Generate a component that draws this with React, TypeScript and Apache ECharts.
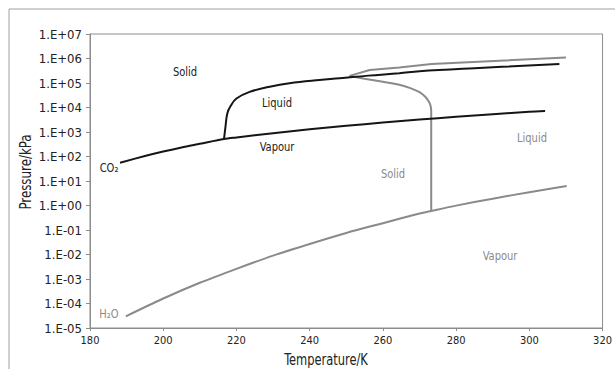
import React, { useEffect, useRef } from "react";
import * as echarts from "echarts";

// CO2 (black) – sublimation + vaporisation curve
const co2VapourT = [188.2, 195, 200, 205, 210, 216.6, 220, 230, 240, 250, 260, 270, 280, 290, 300, 304.3];
const co2VapourP = [56, 105, 160, 235, 330, 518, 600, 893, 1283, 1785, 2419, 3203, 4161, 5318, 6713, 7200];
// CO2 melting curve
const co2MeltT = [216.6, 217.0, 217.5, 218.4, 220.0, 223.6, 229.1, 234.5, 242.7, 248.2, 256.0, 264.5, 270.0, 285.0, 308.2];
const co2MeltP = [518, 1600, 5750, 11500, 23400, 43600, 70800, 98000, 132000, 155000, 200000, 250000, 300000, 400000, 590000];
// H2O (grey) – sublimation + vaporisation curve
const h2oVapourT = [189.8, 200, 210, 220, 230, 240, 250, 260, 270, 273.2, 280, 290, 300, 310.2];
const h2oVapourP = [3.0e-5, 1.6e-4, 7.0e-4, 2.6e-3, 9.0e-3, 0.027, 0.076, 0.19, 0.47, 0.6, 0.99, 1.9, 3.5, 6.2];
// H2O melting curve
const h2oMeltT = [273.2, 273.2, 273.0, 272.5, 271.5, 270.0, 267.5, 264.5, 260.0, 255.0, 250.9];
const h2oMeltP = [0.6, 7000, 12000, 18000, 28000, 42000, 62000, 85000, 112000, 150000, 195000];
// H2O high-pressure ice boundary
const h2oUpperT = [250.9, 256.4, 264.5, 273.3, 310.0];
const h2oUpperP = [195000, 340000, 430000, 590000, 1100000];

const xTicks = [180, 200, 220, 240, 260, 280, 300, 320];
const yTickLabels = [
  "1.E-05", "1.E-04", "1.E-03", "1.E-02", "1.E-01", "1.E+00", "1.E+01",
  "1.E+02", "1.E+03", "1.E+04", "1.E+05", "1.E+06", "1.E+07",
];

const BLACK = "#151515";
const GREY = "#8a8a8a";
const FONT = "'Liberation Sans Narrow', 'DejaVu Sans Condensed', 'Liberation Sans', sans-serif";

const zip = (a: number[], b: number[]) => a.map((v, i) => [v, b[i]]);

export default function App() {
  const ref = useRef<HTMLDivElement>(null);
  useEffect(() => {
    if (!ref.current) return;
    const chart = echarts.init(ref.current, null, { renderer: "svg" });
    const lineSeries = (name: string, t: number[], p: number[], color: string, smooth: boolean | number) => ({
      name,
      type: "line",
      data: zip(t, p),
      showSymbol: false,
      smooth,
      lineStyle: { color, width: 2 },
      itemStyle: { color },
      z: color === BLACK ? 3 : 2,
    });
    const txt = (text: string, x: number, y: number, fill: string, size = 13, extra: any = {}) => ({
      type: "text",
      x,
      y,
      scaleX: 0.85,
      ...extra,
      style: { text, fill, font: `${size}px ${FONT}`, align: "center", verticalAlign: "middle" },
    });
    chart.setOption({
      animation: false,
      grid: {
        left: 90, right: 12, top: 34, bottom: 41,
        show: true, borderColor: "#8c8c8c", borderWidth: 1,
      },
      xAxis: {
        type: "value",
        min: xTicks[0],
        max: xTicks[xTicks.length - 1],
        interval: 20,
        axisLine: { lineStyle: { color: "#8c8c8c" } },
        axisTick: { show: true, length: 3, lineStyle: { color: "#8c8c8c" } },
        axisLabel: { color: "#222", fontSize: 11, fontFamily: FONT, margin: 7 },
        splitLine: { show: false },
      },
      yAxis: {
        type: "log",
        logBase: 10,
        min: 1e-5,
        max: 1e7,
        interval: 1,
        axisLine: { show: true, lineStyle: { color: "#8c8c8c" } },
        axisTick: { show: true, length: 4, lineStyle: { color: "#8c8c8c" } },
        axisLabel: {
          color: "#222",
          fontSize: 13,
          fontFamily: FONT,
          margin: 8,
          formatter: (v: number) => {
            const e = Math.round(Math.log10(v));
            return yTickLabels[e + 5] ?? "";
          },
        },
        splitLine: { show: false },
      },
      series: [
        lineSeries("H2O vapour", h2oVapourT, h2oVapourP, GREY, 0.3),
        lineSeries("H2O melt", h2oMeltT, h2oMeltP, GREY, 0.4),
        lineSeries("H2O upper", h2oUpperT, h2oUpperP, GREY, false),
        lineSeries("CO2 vapour", co2VapourT, co2VapourP, BLACK, 0.3),
        lineSeries("CO2 melt", co2MeltT, co2MeltP, BLACK, 0.4),
      ],
      graphic: [
        { type: "rect", shape: { x: 9, y: 9, width: 620, height: 380 }, style: { fill: "none", stroke: "#a0a0a0", lineWidth: 1 }, silent: true },
        txt("Solid", 185, 72, "#222"),
        txt("Liquid", 277, 103, "#222"),
        txt("Vapour", 277, 147, "#222"),
        txt("Solid", 393, 174, GREY),
        txt("Liquid", 532, 138, GREY),
        txt("Vapour", 500, 256, GREY),
        txt("CO\u2082", 109, 168, "#222"),
        txt("H\u2082O", 109, 314, GREY),
        txt("Temperature/K", 326, 360, "#222", 15),
        txt("Pressure/kPa", 26, 172, "#222", 15, { rotation: Math.PI / 2, scaleX: 0.88 }),
      ],
    });
    return () => chart.dispose();
  }, []);
  return <div ref={ref} style={{ width: 615, height: 369, position: "absolute", left: 0, top: 0 }} />;
}
